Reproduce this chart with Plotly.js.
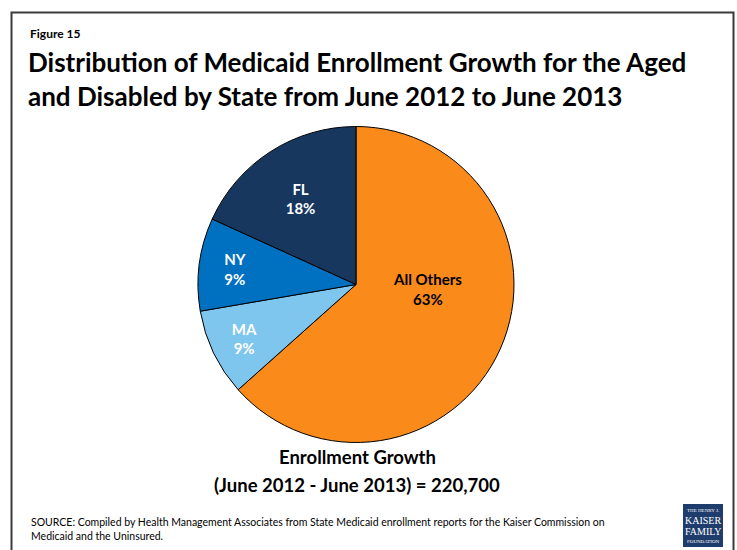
<!DOCTYPE html>
<html>
<head>
<meta charset="utf-8">
<script src="https://cdn.plot.ly/plotly-3.0.1.min.js"></script>
<style>
html,body{margin:0;padding:0;background:#fff;}
#chart{width:737px;height:550px;}
</style>
</head>
<body>
<div id="chart"></div>
<script>
// Data
const states = ["All Others", "MA", "NY", "FL"];
const shares = [63.4, 8.9, 9.5, 18.2];        // slice sizes (share of growth, %)
const shareLabels = ["63%", "9%", "9%", "18%"]; // printed percentages
const sliceColors = ["#FA8A1A", "#7FC6EE", "#0070C0", "#17375E"];
const labelColors = ["#000000", "#FFFFFF", "#FFFFFF", "#FFFFFF"];
const totalGrowth = "220,700";

const W = 737, H = 550;
const px = x => x / W;
const py = y => 1 - y / H;

const trace = {
  type: "pie",
  labels: states,
  values: shares,
  text: shareLabels,
  texttemplate: "<b>%{label}</b><br><b>%{text}</b>",
  textposition: ["none", "inside", "inside", "inside"],
  insidetextorientation: "horizontal",
  sort: false,
  direction: "clockwise",
  rotation: 0,
  hoverinfo: "none",
  marker: { colors: sliceColors, line: { color: "#000000", width: 1 } },
  textfont: { family: "Lato", size: 15, color: labelColors },
  domain: { x: [px(198), px(514)], y: [py(443), py(126)] },
  showlegend: false
};

const layout = {
  width: W, height: H,
  margin: { l: 0, r: 0, t: 0, b: 0 },
  paper_bgcolor: "#FFFFFF",
  title: {
    text: "<b>Distribution of Medicaid Enrollment Growth for the Aged<br>and Disabled by State from June 2012 to June 2013</b>",
    x: px(28), xanchor: "left", xref: "paper",
    y: py(72), yanchor: "top", yref: "paper",
    font: { family: "Lato", size: 26, color: "#000000" }
  },
  shapes: [
    { type: "rect", xref: "paper", yref: "paper", x0: px(11.5), x1: px(733.5), y0: py(565), y1: py(12.5),
      line: { color: "#3A3A3A", width: 2 }, fillcolor: "rgba(0,0,0,0)" },
    { type: "rect", xref: "paper", yref: "paper", x0: px(683), x1: px(723), y0: py(547), y1: py(504),
      line: { width: 0 }, fillcolor: "#1F3D6C" }
  ],
  annotations: [
    { text: "<b>Figure 15</b>", xref: "paper", yref: "paper", x: px(28), y: py(33.5), xanchor: "left", yanchor: "middle",
      showarrow: false, font: { family: "Lato", size: 12, color: "#000" } },
    { text: "<b>" + states[0] + "<br>" + shareLabels[0] + "</b>", xref: "paper", yref: "paper", x: px(427), y: py(289),
      xanchor: "center", yanchor: "middle", showarrow: false, font: { family: "Lato", size: 15, color: labelColors[0] } },
    { text: "<b>Enrollment Growth</b>", xref: "paper", yref: "paper", x: px(357), y: py(457), xanchor: "center", yanchor: "middle",
      showarrow: false, font: { family: "Lato", size: 18.5, color: "#000" } },
    { text: "<b>(June 2012 - June 2013) = " + totalGrowth + "</b>", xref: "paper", yref: "paper", x: px(357), y: py(485), xanchor: "center", yanchor: "middle",
      showarrow: false, font: { family: "Lato", size: 18.5, color: "#000" } },
    { text: "SOURCE: Compiled by Health Management Associates from State Medicaid enrollment reports for the Kaiser Commission on<br>Medicaid and the Uninsured.",
      xref: "paper", yref: "paper", x: px(29), y: py(529), xanchor: "left", yanchor: "middle", align: "left",
      showarrow: false, font: { family: "Lato", size: 10.5, color: "#000" } },
    { text: "THE HENRY J.", xref: "paper", yref: "paper", x: px(703), y: py(510), xanchor: "center", yanchor: "middle",
      showarrow: false, font: { family: "Liberation Serif", size: 5, color: "#fff" } },
    { text: "KAISER", xref: "paper", yref: "paper", x: px(703), y: py(520), xanchor: "center", yanchor: "middle",
      showarrow: false, font: { family: "Liberation Serif", size: 10, color: "#fff" } },
    { text: "FAMILY", xref: "paper", yref: "paper", x: px(703), y: py(531), xanchor: "center", yanchor: "middle",
      showarrow: false, font: { family: "Liberation Serif", size: 10, color: "#fff" } },
    { text: "FOUNDATION", xref: "paper", yref: "paper", x: px(703), y: py(541), xanchor: "center", yanchor: "middle",
      showarrow: false, font: { family: "Liberation Serif", size: 5, color: "#fff" } }
  ]
};

Plotly.newPlot("chart", [trace], layout, { staticPlot: true, displayModeBar: false });
</script>
</body>
</html>
